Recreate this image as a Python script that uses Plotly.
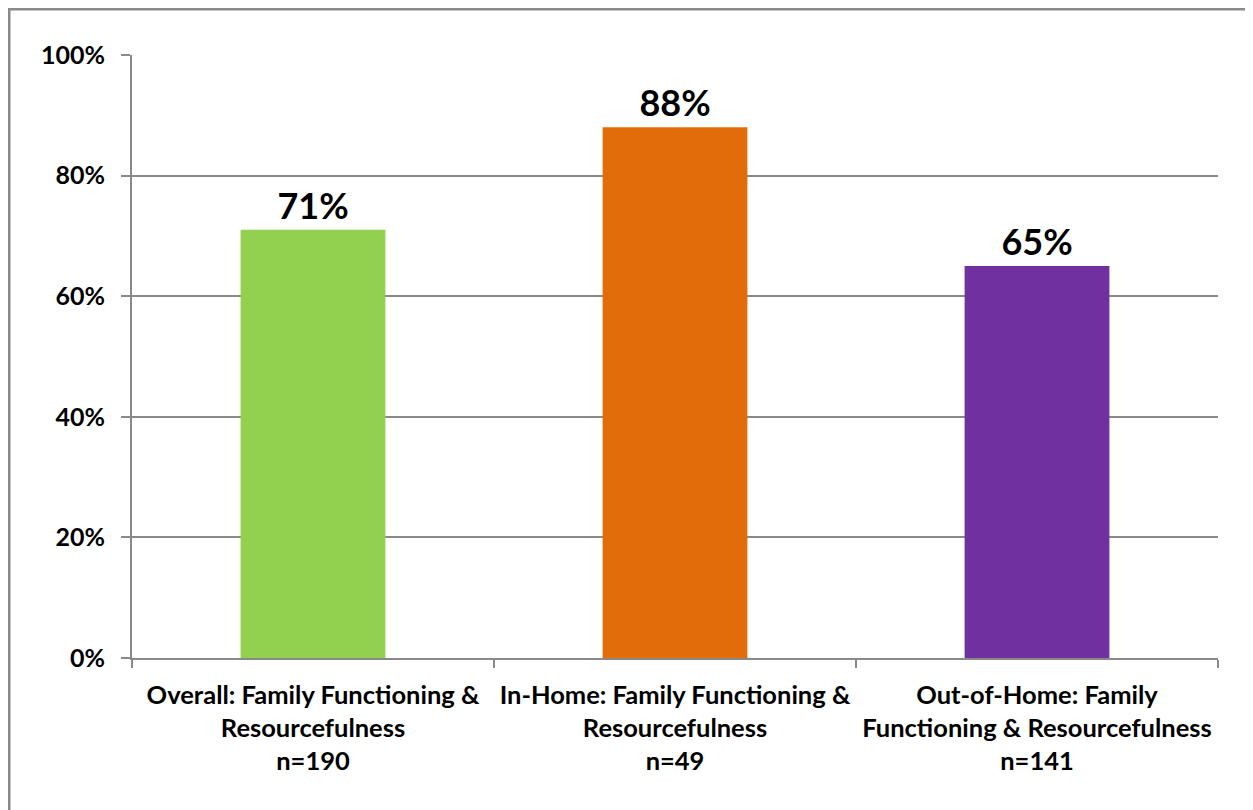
import plotly.graph_objects as go

categories = [
    "Overall: Family Functioning &<br>Resourcefulness<br>n=190",
    "In-Home: Family Functioning &<br>Resourcefulness<br>n=49",
    "Out-of-Home: Family<br>Functioning & Resourcefulness<br>n=141",
]
values = [0.71, 0.88, 0.65]
labels = ["71%", "88%", "65%"]
colors = ["#92D050", "#E36C0A", "#7030A0"]
y_ticks = [0, 0.2, 0.4, 0.6, 0.8, 1.0]
y_tick_labels = ["0%", "20%", "40%", "60%", "80%", "100%"]

FONT = "Lato, Carlito, Calibri, 'Liberation Sans', sans-serif"
GRID = "#898989"

W, H = 1253, 810
L, R, T, B = 124, 43, 47, 160
pw, ph = W - L - R, H - T - B

fig = go.Figure(go.Bar(
    x=categories, y=values, marker=dict(color=colors, line=dict(width=0)),
    text=labels, textposition="outside", cliponaxis=False,
    textfont=dict(family=FONT, size=36, color="#000000", weight="bold"),
))

fig.update_layout(
    width=W, height=H,
    margin=dict(l=L, r=R, t=T, b=B, pad=0),
    paper_bgcolor="white", plot_bgcolor="white",
    bargap=0.6, showlegend=False,
    font=dict(family=FONT, color="#000000", weight="bold"),
)
fig.update_xaxes(
    type="category", tickson="boundaries", ticks="outside", ticklen=8,
    tickcolor=GRID, tickwidth=2, showline=True, linecolor=GRID, linewidth=2,
    showgrid=False, tickfont=dict(family=FONT, size=25.5, color="#000000", weight="bold"),
    ticklabelstandoff=13,
)
fig.update_yaxes(
    range=[0, 1], tickvals=y_ticks, ticktext=y_tick_labels,
    ticks="outside", ticklen=9, tickcolor=GRID, tickwidth=2,
    showline=True, linecolor=GRID, linewidth=2,
    showgrid=True, gridcolor=GRID, gridwidth=2, zeroline=False,
    tickfont=dict(family=FONT, size=25, color="#000000", weight="bold"),
    ticklabelstandoff=11,
)
# chart border (only top and left are visible in the frame)
fig.add_shape(
    type="rect", xref="paper", yref="paper",
    x0=(1 - L) / pw, x1=(W + 20 - L) / pw,
    y0=-(H + 20 - T - ph) / ph, y1=1 + (T - 1) / ph,
    line=dict(color=GRID, width=3), fillcolor="rgba(0,0,0,0)", layer="below",
)
fig.write_html("out.html")
